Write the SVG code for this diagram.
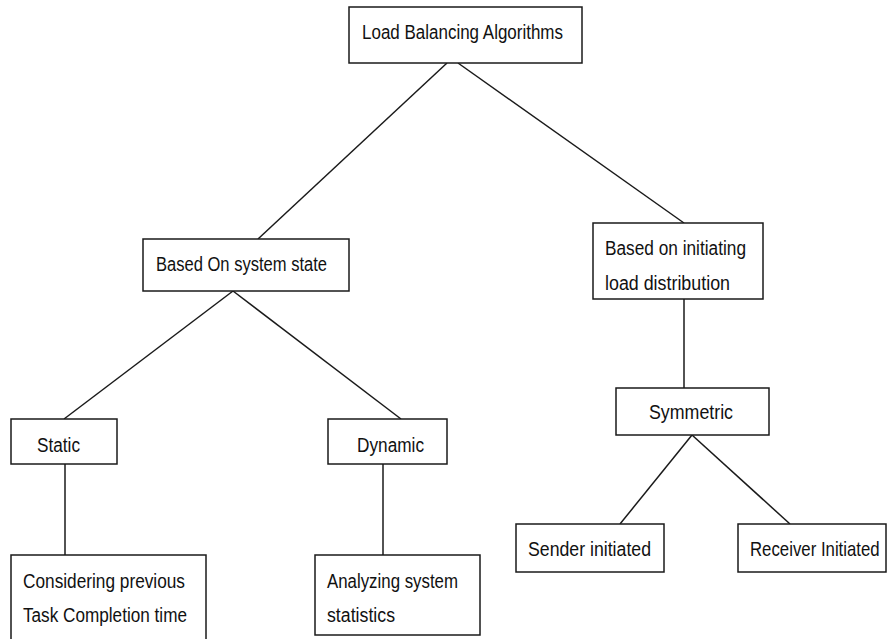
<svg xmlns="http://www.w3.org/2000/svg" width="888" height="639" viewBox="0 0 888 639">
  <style>
    .box { fill: #ffffff; stroke: #1a1a1a; stroke-width: 1.5; }
    .edge { stroke: #1a1a1a; stroke-width: 1.5; fill: none; }
    .lbl { font-family: "Liberation Sans", Arial, sans-serif; font-size: 20px; fill: #111111; }
  </style>
  <rect width="888" height="639" fill="#ffffff"/>

  <g id="connectors">
    <line class="edge" x1="447" y1="63" x2="258" y2="239"/>
    <line class="edge" x1="458" y1="63" x2="684" y2="223"/>
    <line class="edge" x1="233" y1="291" x2="64" y2="419"/>
    <line class="edge" x1="233" y1="291" x2="401" y2="419"/>
    <line class="edge" x1="684" y1="299" x2="684" y2="388"/>
    <line class="edge" x1="692" y1="435" x2="620" y2="524"/>
    <line class="edge" x1="692" y1="435" x2="790" y2="524"/>
    <line class="edge" x1="65" y1="464" x2="65" y2="555"/>
    <line class="edge" x1="383" y1="464" x2="383" y2="555"/>
  </g>

  <g id="root">
    <rect class="box" x="349" y="7" width="233" height="56"/>
    <text class="lbl" x="362" y="39" textLength="201" lengthAdjust="spacingAndGlyphs">Load Balancing Algorithms</text>
  </g>

  <g id="system-state">
    <rect class="box" x="143" y="239" width="206" height="52"/>
    <text class="lbl" x="156" y="271" textLength="171" lengthAdjust="spacingAndGlyphs">Based On system state</text>
  </g>

  <g id="initiating">
    <rect class="box" x="593" y="223" width="170" height="76"/>
    <text class="lbl" x="605" y="255" textLength="141" lengthAdjust="spacingAndGlyphs">Based on initiating</text>
    <text class="lbl" x="605" y="290" textLength="125" lengthAdjust="spacingAndGlyphs">load distribution</text>
  </g>

  <g id="static">
    <rect class="box" x="11" y="419" width="106" height="45"/>
    <text class="lbl" x="37" y="452" textLength="43" lengthAdjust="spacingAndGlyphs">Static</text>
  </g>

  <g id="dynamic">
    <rect class="box" x="328" y="419" width="119" height="45"/>
    <text class="lbl" x="357" y="452" textLength="67" lengthAdjust="spacingAndGlyphs">Dynamic</text>
  </g>

  <g id="symmetric">
    <rect class="box" x="616" y="388" width="153" height="47"/>
    <text class="lbl" x="649" y="419" textLength="84" lengthAdjust="spacingAndGlyphs">Symmetric</text>
  </g>

  <g id="sender">
    <rect class="box" x="516" y="524" width="148" height="48"/>
    <text class="lbl" x="528" y="556" textLength="123" lengthAdjust="spacingAndGlyphs">Sender initiated</text>
  </g>

  <g id="receiver">
    <rect class="box" x="738" y="524" width="148" height="48"/>
    <!-- horizontally condensed so the label stays inside the right edge -->
    <text class="lbl" transform="translate(750 556) scale(0.84 1)">Receiver Initiated</text>
  </g>

  <g id="previous-time">
    <rect class="box" x="11" y="555" width="195" height="90"/>
    <text class="lbl" x="23" y="588" textLength="162" lengthAdjust="spacingAndGlyphs">Considering previous</text>
    <text class="lbl" x="23" y="622" textLength="164" lengthAdjust="spacingAndGlyphs">Task Completion time</text>
  </g>

  <g id="statistics">
    <rect class="box" x="315" y="555" width="165" height="80"/>
    <text class="lbl" x="327" y="588" textLength="131" lengthAdjust="spacingAndGlyphs">Analyzing system</text>
    <text class="lbl" x="327" y="622" textLength="68" lengthAdjust="spacingAndGlyphs">statistics</text>
  </g>
</svg>
